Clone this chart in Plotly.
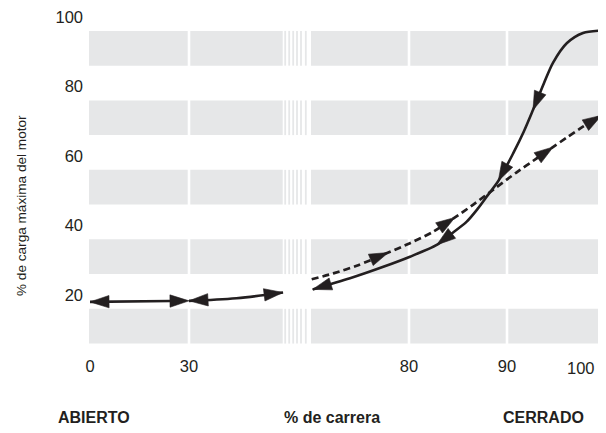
import plotly.graph_objects as go

# ---------------- data ----------------
y_tick_vals = [20, 40, 60, 80, 100]
x_ticks_left = [0, 30]
x_ticks_right = [80, 90]
x_tick_end = "100"

# opening, left part (solid, double-headed arrows)
open_a_x = [0, 30]
open_a_y = [18.0, 18.3]
open_b_x = [30, 44.4, 58.5]
open_b_y = [18.3, 19.05, 20.7]

# closing (dashed), from 70 % to 100 % of travel
close_x = [70.07, 72.28, 74.66, 77.89, 80.10, 82.48, 84.69, 86.56, 88.60,
           90.99, 93.03, 94.72, 96.09, 97.79, 99.66]
close_y = [24.5, 26.2, 28.4, 32.2, 34.9, 38.2, 42.3, 46.0, 50.3,
           55.3, 59.3, 62.6, 65.3, 68.5, 71.7]

# opening from closed position (solid), from 100 % back to 70 %
ret_x = [99.66, 97.76, 96.12, 94.69, 93.78, 92.65, 91.73, 90.64, 89.11,
         88.06, 87.04, 85.89, 84.18, 82.83, 80.10, 77.38, 73.98, 70.17]
ret_y = [96.1, 95.4, 92.5, 86.8, 81.0, 73.2, 67.1, 60.8, 52.8,
         48.8, 44.9, 41.1, 37.3, 34.4, 31.0, 28.1, 24.8, 21.6]

y_title = "% de carga máxima del motor"
x_title = "% de carrera"
left_label = "ABIERTO"
right_label = "CERRADO"

# ---------------- style ----------------
OFF = 8                      # page body margin
W, H = 606 - OFF, 433 - OFF
L, R, T, B = 89 - OFF, 1, 16 - OFF, 433 - 354
PW = W - L - R
PH = H - T - B
Y_TOP = 100 + 1 / 3.475
INK = "#231f20"
BAND = "#e6e7e8"
AS = 20  # arrow size
close_arrows = [3, 6, 11, 14]
ret_arrows = [5, 8, 13, 17]
bands = [(6, 16), (26, 36), (46, 56), (66, 76), (86, 96)]
stripe_px = [285.2, 289.2, 293.2, 297.0, 301.0, 305.8]
TICKFONT = dict(family="Liberation Sans, Arial, sans-serif", size=16.5, color=INK)


def px(p):  # reference-picture pixel -> paper x
    return (p - 89) / PW


def py(p):  # reference-picture pixel -> paper y
    return (354 - p) / PH


def sizes(n, idx):
    return [AS if i in idx else 0 for i in range(n)]


fig = go.Figure()

line_solid = dict(color=INK, width=2.6)
line_dash = dict(color=INK, width=2.7, dash="7px,4px")


def mk(s):
    return dict(symbol="arrow", size=s, angleref="previous", color=INK, opacity=1,
                line=dict(width=0.6, color=INK))


# left part
fig.add_trace(go.Scatter(x=open_a_x, y=open_a_y, mode="lines+markers", line=line_solid,
                         marker=mk(sizes(len(open_a_x), [len(open_a_x) - 1])), xaxis="x", yaxis="y"))
fig.add_trace(go.Scatter(x=open_a_x[::-1], y=open_a_y[::-1], mode="markers",
                         marker=mk(sizes(len(open_a_x), [len(open_a_x) - 1])), xaxis="x", yaxis="y"))
fig.add_trace(go.Scatter(x=open_b_x, y=open_b_y, mode="lines+markers", line=dict(line_solid, shape="spline"),
                         marker=mk(sizes(len(open_b_x), [len(open_b_x) - 1])), xaxis="x", yaxis="y"))
fig.add_trace(go.Scatter(x=open_b_x[1::-1], y=open_b_y[1::-1], mode="markers",
                         marker=mk([0, AS]), xaxis="x", yaxis="y"))

# right part
fig.add_trace(go.Scatter(x=close_x, y=close_y, mode="lines+markers",
                         line=dict(line_dash, shape="spline", smoothing=0.8),
                         marker=mk(sizes(len(close_x), close_arrows)), xaxis="x2", yaxis="y"))
fig.add_trace(go.Scatter(x=ret_x, y=ret_y, mode="lines+markers",
                         line=dict(line_solid, shape="spline", smoothing=0.8),
                         marker=mk(sizes(len(ret_x), ret_arrows)), xaxis="x2", yaxis="y"))

# shapes: bands, break stripes, white grid lines
shapes = []
left_end = px(282.7)
right_start = px(311)
right_end = px(602)
for y0, y1 in bands:
    for a, b in [(0, left_end), (right_start, right_end)]:
        shapes.append(dict(type="rect", xref="paper", yref="y", x0=a, x1=b, y0=y0, y1=y1,
                           fillcolor=BAND, line=dict(width=0), layer="below"))
    for s in stripe_px:
        shapes.append(dict(type="rect", xref="paper", yref="y", x0=px(s - 0.9), x1=px(s + 0.9),
                           y0=y0, y1=y1, fillcolor=BAND, line=dict(width=0), layer="below"))
for v in x_ticks_left[1:]:
    shapes.append(dict(type="line", xref="x", yref="paper", x0=v, x1=v, y0=0, y1=1,
                       line=dict(color="white", width=2.6), layer="below"))
for v in x_ticks_right:
    shapes.append(dict(type="line", xref="x2", yref="paper", x0=v, x1=v, y0=0, y1=1,
                       line=dict(color="white", width=2.6), layer="below"))

ax_common = dict(showgrid=False, zeroline=False, showline=False, ticks="", tickfont=TICKFONT,
                 fixedrange=True, ticklabeloverflow="allow")

annotations = [
    dict(text=y_title, xref="paper", yref="paper", x=px(21), y=py(206), textangle=-90,
         showarrow=False, font=dict(family="Liberation Sans, Arial, sans-serif", size=13.6, color=INK),
         xanchor="center", yanchor="middle"),
    dict(text=x_tick_end, xref="paper", yref="paper", x=px(581), y=py(368), showarrow=False,
         font=TICKFONT, xanchor="center", yanchor="middle"),
]
bold = dict(family="Liberation Sans Narrow, Arial Narrow, Liberation Sans, sans-serif", size=16, color=INK)
for txt, cx in [(left_label, 94), (x_title, 331.5), (right_label, 543.5)]:
    annotations.append(dict(text="<b>%s</b>" % txt, xref="paper", yref="paper", x=px(cx),
                            y=py(417), showarrow=False, font=bold,
                            xanchor="center", yanchor="middle"))

fig.update_layout(
    width=W, height=H, margin=dict(l=L, r=R, t=T, b=B, pad=0, autoexpand=False),
    paper_bgcolor="white", plot_bgcolor="white", showlegend=False,
    shapes=shapes, annotations=annotations,
    xaxis=dict(ax_common, domain=[0, px(285)], range=[-0.303, 59.09], tickvals=x_ticks_left, anchor="y"),
    xaxis2=dict(ax_common, domain=[px(311), 1], range=[70, 100], tickvals=x_ticks_right, anchor="y"),
    yaxis=dict(ax_common, range=[3, Y_TOP], tickvals=y_tick_vals, ticklabelstandoff=5),
)

fig.write_html("out.html")
